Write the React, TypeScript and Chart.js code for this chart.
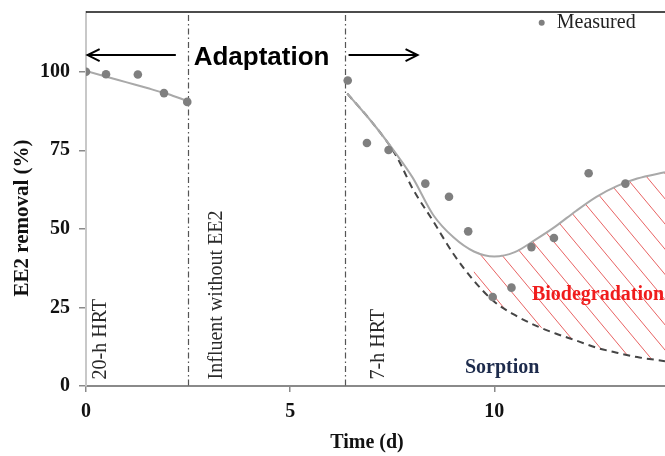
import React, { useEffect, useRef } from 'react';
import { Chart, registerables } from 'chart.js';

Chart.register(...registerables);

// ---- data ----
const measuredX = [0, 0.49, 1.27, 1.91, 2.48, 6.41, 6.88, 7.41, 8.31, 8.89, 9.36, 9.96, 10.42, 10.91, 11.46, 12.31, 13.21];
const measuredY = [100, 99.2, 99.1, 93.2, 90.4, 97.2, 77.3, 75.1, 64.4, 60.2, 49.2, 28.3, 31.3, 44.2, 47.1, 67.7, 64.4];

const fitEarlyX = [0, 0.5, 1, 1.5, 2, 2.5];
const fitEarlyY = [100.2, 98.4, 96.6, 94.8, 92.9, 90.6];

const fitLateX = [6.4, 7.0, 7.6, 8.0, 8.5, 9.0, 9.5, 10.0, 10.5, 11.0, 11.5, 12.0, 12.5, 13.0, 13.5, 14.18];
const fitLateY = [93, 84, 73.8, 66.3, 54.5, 47.3, 42.8, 41.2, 42.6, 46.5, 50.8, 55.7, 60.2, 63.6, 66.0, 68.0];
const sorptionY = [93, 84, 73.2, 62.8, 52.5, 42.0, 33.5, 26.8, 22.6, 19.3, 16.7, 14.5, 12.2, 10.6, 9.2, 7.9];

const xTicks = [0, 5, 10];
const yTicks = [0, 25, 50, 75, 100];
const phaseLines = [2.5, 6.35];
const hatchStart = 9.5;

const serif = '"Liberation Serif", "Times New Roman", serif';
const sans = '"Liberation Sans", Arial, sans-serif';

function arrow(ctx: CanvasRenderingContext2D, x1: number, x2: number, y: number) {
  const dir = x2 > x1 ? 1 : -1;
  ctx.beginPath();
  ctx.moveTo(x1, y);
  ctx.lineTo(x2, y);
  ctx.stroke();
  ctx.beginPath();
  ctx.moveTo(x2 - dir * 12, y - 6);
  ctx.lineTo(x2, y);
  ctx.lineTo(x2 - dir * 12, y + 6);
  ctx.stroke();
}

function vText(ctx: CanvasRenderingContext2D, text: string, x: number, y: number) {
  ctx.save();
  ctx.translate(x, y);
  ctx.rotate(-Math.PI / 2);
  ctx.textAlign = 'left';
  ctx.textBaseline = 'alphabetic';
  ctx.fillText(text, 0, 0);
  ctx.restore();
}

function zeroPadding(s: any) {
  s.paddingTop = 0;
  s.paddingBottom = 0;
  s.paddingLeft = 0;
  s.paddingRight = 0;
}

const decorations = {
  id: 'decorations',
  beforeDatasetsDraw(chart: any) {
    const { ctx, chartArea: ca, scales } = chart;
    const x = scales.x;
    const y = scales.y;
    // hatched biodegradation area between fitted curve and sorption curve
    const top: number[][] = [];
    const bot: number[][] = [];
    fitLateX.forEach((v, i) => {
      if (v >= hatchStart) {
        top.push([x.getPixelForValue(v), y.getPixelForValue(fitLateY[i])]);
        bot.push([x.getPixelForValue(v), y.getPixelForValue(sorptionY[i])]);
      }
    });
    const poly = [...top, ...bot.reverse()];
    ctx.save();
    ctx.beginPath();
    poly.forEach((p, i) => (i ? ctx.lineTo(p[0], p[1]) : ctx.moveTo(p[0], p[1])));
    ctx.closePath();
    ctx.clip();
    ctx.strokeStyle = 'rgba(228,70,70,0.85)';
    ctx.lineWidth = 1;
    const slope = 1.2;
    const H = ca.bottom - ca.top;
    const spacing = 21;
    for (let sx = ca.left - H / slope; sx < ca.right + 40; sx += spacing) {
      ctx.beginPath();
      ctx.moveTo(sx, ca.top);
      ctx.lineTo(sx + H / slope, ca.bottom);
      ctx.stroke();
    }
    ctx.restore();

    // phase separation lines (dash-dot)
    ctx.save();
    ctx.strokeStyle = '#555555';
    ctx.lineWidth = 1.2;
    ctx.setLineDash([6, 3, 1.5, 3]);
    phaseLines.forEach((v) => {
      const px = Math.round(x.getPixelForValue(v)) + 0.5;
      ctx.beginPath();
      ctx.moveTo(px, ca.top + 3);
      ctx.lineTo(px, ca.bottom);
      ctx.stroke();
    });
    ctx.restore();
  },
  afterDraw(chart: any) {
    const { ctx, chartArea: ca, scales } = chart;
    const x = scales.x;
    const y = scales.y;
    ctx.save();
    // top frame line
    ctx.strokeStyle = '#111111';
    ctx.lineWidth = 1.5;
    ctx.beginPath();
    ctx.moveTo(ca.left, ca.top);
    ctx.lineTo(ca.right, ca.top);
    ctx.stroke();

    // Adaptation arrows
    ctx.strokeStyle = '#000000';
    ctx.lineWidth = 2;
    const ay = y.getPixelForValue(105.3);
    arrow(ctx, x.getPixelForValue(2.2), x.getPixelForValue(0.04), ay);
    arrow(ctx, x.getPixelForValue(6.43), x.getPixelForValue(8.12), ay);
    ctx.fillStyle = '#000000';
    ctx.font = `bold 26px ${sans}`;
    ctx.textAlign = 'center';
    ctx.textBaseline = 'alphabetic';
    ctx.fillText('Adaptation', x.getPixelForValue(4.3), y.getPixelForValue(102));

    // vertical phase labels
    ctx.fillStyle = '#2a2a2a';
    ctx.font = `20px ${serif}`;
    vText(ctx, '20-h HRT', x.getPixelForValue(0.5), y.getPixelForValue(2.1));
    vText(ctx, 'Influent without EE2', x.getPixelForValue(3.32), y.getPixelForValue(2.1));
    vText(ctx, '7-h HRT', x.getPixelForValue(7.3), y.getPixelForValue(2.1));

    // region labels
    ctx.font = `bold 20px ${serif}`;
    ctx.textAlign = 'left';
    ctx.fillStyle = '#f01c1c';
    ctx.fillText('Biodegradation', x.getPixelForValue(10.92), y.getPixelForValue(27.5));
    ctx.fillStyle = '#1d2b4c';
    ctx.fillText('Sorption', x.getPixelForValue(9.28), y.getPixelForValue(4.2));

    // legend
    ctx.fillStyle = '#7f7f7f';
    ctx.beginPath();
    ctx.arc(x.getPixelForValue(11.16), y.getPixelForValue(115.6), 3, 0, Math.PI * 2);
    ctx.fill();
    ctx.fillStyle = '#222222';
    ctx.font = `20px ${serif}`;
    ctx.textBaseline = 'middle';
    ctx.fillText('Measured', x.getPixelForValue(11.53), y.getPixelForValue(115.6));

    // axis titles
    ctx.fillStyle = '#111111';
    ctx.font = `bold 21px ${serif}`;
    ctx.textAlign = 'center';
    ctx.textBaseline = 'middle';
    ctx.save();
    ctx.translate(22.5, (ca.top + ca.bottom) / 2 + 19);
    ctx.rotate(-Math.PI / 2);
    ctx.fillText('EE2 removal (%)', 0, 0);
    ctx.restore();
    ctx.font = `bold 20px ${serif}`;
    ctx.fillText('Time (d)', (ca.left + ca.right) / 2 - 8.5, ca.bottom + 57);
    ctx.restore();
  },
};

export default function App() {
  const ref = useRef<HTMLCanvasElement>(null);

  useEffect(() => {
    document.body.style.margin = '0';
    const canvas = ref.current;
    if (!canvas) return;

    const chart = new Chart(canvas, {
      type: 'scatter',
      data: {
        datasets: [
          {
            label: 'Measured',
            data: measuredX.map((v, i) => ({ x: v, y: measuredY[i] })),
            backgroundColor: '#7f7f7f',
            borderColor: '#7f7f7f',
            borderWidth: 0,
            pointRadius: 4.3,
            showLine: false,
            order: 0,
          },
          {
            label: 'Fit (20-h HRT)',
            data: fitEarlyX.map((v, i) => ({ x: v, y: fitEarlyY[i] })),
            showLine: true,
            borderColor: '#a9a9a9',
            borderWidth: 2,
            pointRadius: 0,
            cubicInterpolationMode: 'monotone',
            order: 2,
          },
          {
            label: 'Fit (7-h HRT)',
            data: fitLateX.map((v, i) => ({ x: v, y: fitLateY[i] })),
            showLine: true,
            borderColor: '#a9a9a9',
            borderWidth: 2,
            pointRadius: 0,
            cubicInterpolationMode: 'monotone',
            order: 2,
          },
          {
            label: 'Sorption',
            data: fitLateX.map((v, i) => ({ x: v, y: sorptionY[i] })),
            showLine: true,
            borderColor: '#454545',
            borderWidth: 2,
            borderDash: [7, 5],
            pointRadius: 0,
            cubicInterpolationMode: 'monotone',
            order: 3,
          },
        ],
      } as any,
      options: {
        animation: false,
        responsive: false,
        devicePixelRatio: 1,
        layout: { autoPadding: false, padding: { top: 12, right: 0, bottom: 0, left: 0 } },
        plugins: {
          legend: { display: false },
          tooltip: { enabled: false },
        },
        scales: {
          x: {
            type: 'linear',
            min: 0,
            max: 14.18,
            afterBuildTicks: (s: any) => {
              s.ticks = xTicks.map((v) => ({ value: v }));
            },
            afterFit: (s: any) => {
              s.height = 70;
              zeroPadding(s);
            },
            grid: { drawOnChartArea: false, drawTicks: true, tickLength: 6, color: '#8a8a8a', lineWidth: 1.5 },
            border: { display: true, color: '#8a8a8a', width: 2 },
            ticks: {
              padding: 8,
              color: '#111111',
              font: { family: serif, size: 20, weight: 'bold' },
              maxRotation: 0,
              callback: (v: any) => String(v),
            },
          },
          y: {
            type: 'linear',
            min: 0,
            max: 119,
            afterBuildTicks: (s: any) => {
              s.ticks = yTicks.map((v) => ({ value: v }));
            },
            afterFit: (s: any) => {
              s.width = 86;
              zeroPadding(s);
            },
            grid: { drawOnChartArea: false, drawTicks: true, tickLength: 7, color: '#8a8a8a', lineWidth: 1.5 },
            border: { display: true, color: '#c8c8c8', width: 2 },
            ticks: {
              padding: 9,
              color: '#111111',
              font: { family: serif, size: 20, weight: 'bold' },
              callback: (v: any) => String(v),
            },
          },
        },
      } as any,
      plugins: [decorations],
    });

    return () => chart.destroy();
  }, []);

  return (
    <div style={{ width: 665, height: 456 }}>
      <canvas ref={ref} width={665} height={456} style={{ display: 'block', width: 665, height: 456 }} />
    </div>
  );
}
